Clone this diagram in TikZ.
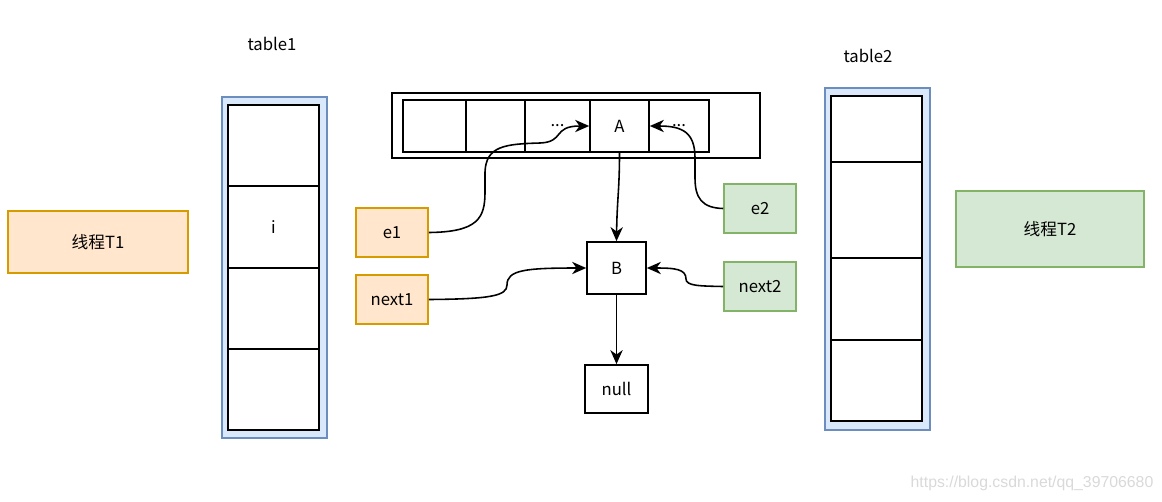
\documentclass[tikz,border=0pt]{standalone}
\usepackage{fontspec}
\setmainfont{Noto Sans CJK SC}
\newfontfamily\markfont{Liberation Sans}
\usetikzlibrary{arrows.meta}

\definecolor{orangeline}{HTML}{D79B00}
\definecolor{orangefill}{HTML}{FFE6CC}
\definecolor{greenline}{HTML}{82B366}
\definecolor{greenfill}{HTML}{D5E8D4}
\definecolor{blueline}{HTML}{6C8EBF}
\definecolor{bluefill}{HTML}{DAE8FC}
\newcommand{\celldots}{...}

\begin{document}
\begin{tikzpicture}[x=0.02cm, y=-0.02cm, font=\fontsize{9.5}{11}\selectfont,
  cell/.style={draw, line width=0.95pt, fill=white, inner sep=0pt},
  frame/.style={draw=blueline, fill=bluefill, line width=0.9pt, minimum width=2.1cm},
  threadone/.style={draw=orangeline, fill=orangefill, line width=0.9pt},
  threadtwo/.style={draw=greenline, fill=greenfill, line width=0.9pt},
  ref/.style={minimum width=1.44cm, minimum height=0.98cm},
  link/.style={line width=0.9pt, -{Stealth[length=8pt,width=7pt,inset=2.5pt]}}]
\useasboundingbox (0,0) rectangle (1162,501);

% threads
\node[threadone, minimum width=3.6cm, minimum height=1.24cm] (T1) at (98,242) {线程T1};
\node[threadtwo, minimum width=3.76cm, minimum height=1.52cm] (T2) at (1050,229) {线程T2};

% table1
\node (name1) at (272,44) {table1};
\node[frame, minimum height=6.82cm] (table1) at (274.5,267.5) {};
\foreach \y/\t [count=\n] in {145.5/{},227/i,308.5/{},389.5/{}}
	\node[cell, minimum width=1.82cm, minimum height=1.63cm] (t1c\n) at (273.5,\y) {\t};

% table2
\node (name2) at (868,56) {table2};
\node[frame, minimum height=6.84cm] (table2) at (877.5,259) {};
\foreach \y/\h [count=\n] in {129/1.32,210/1.92,299/1.64,380.5/1.62}
	\node[cell, minimum width=1.82cm, minimum height=\h cm] (t2c\n) at (876.5,\y) {};

% bucket
\node[cell, minimum width=7.36cm, minimum height=1.3cm] (bucket) at (576,125.5) {};
\foreach \x/\w/\t/\nm in {434.5/1.26/{}/c1,495.5/1.18/{}/c2,557.5/1.3/\celldots/c3,619.5/1.18/A/A,679/1.2/\celldots/c5}
	\node[cell, minimum width=\w cm, minimum height=1.04cm] (\nm) at (\x,126) {\t};

% entries
\node[cell, minimum width=1.18cm, minimum height=1.04cm] (B) at (616.5,268) {B};
\node[cell, minimum width=1.26cm, minimum height=0.96cm] (null) at (616.5,389) {null};

% references
\node[threadone, ref] (e1) at (392,232.5) {e1};
\node[threadone, ref] (next1) at (392,299.5) {next1};
\node[threadtwo, ref] (e2) at (760,208.5) {e2};
\node[threadtwo, ref] (next2) at (760,286.5) {next2};

\draw[link] (A.south) .. controls (619.5,190) and (617,200) .. (B.north);
\draw[link] (B.south) -- (null.north);
\draw[link] (e1.east) .. controls (478,232) and (485,218) .. (485,192)
	-- (485,172) .. controls (486,146) and (505,144) .. (540,143)
	.. controls (565,142) and (552,126) .. (A.west);
\draw[link] (e2.west) .. controls (702,208) and (695,198) .. (695,178)
	-- (695,158) .. controls (695,132) and (682,126) .. (A.east);
\draw[link] (next1.east) .. controls (490,299) and (507,296) .. (507,285)
	.. controls (507,270) and (525,268) .. (B.west);
\draw[link] (next2.west) .. controls (700,286) and (686,286) .. (686,279)
	.. controls (686,269) and (675,268) .. (B.east);

\node[text=black!15, font=\fontsize{9}{11}\markfont] (mark) at (1032,483) {https://blog.csdn.net/qq\_39706680};
\end{tikzpicture}
\end{document}
